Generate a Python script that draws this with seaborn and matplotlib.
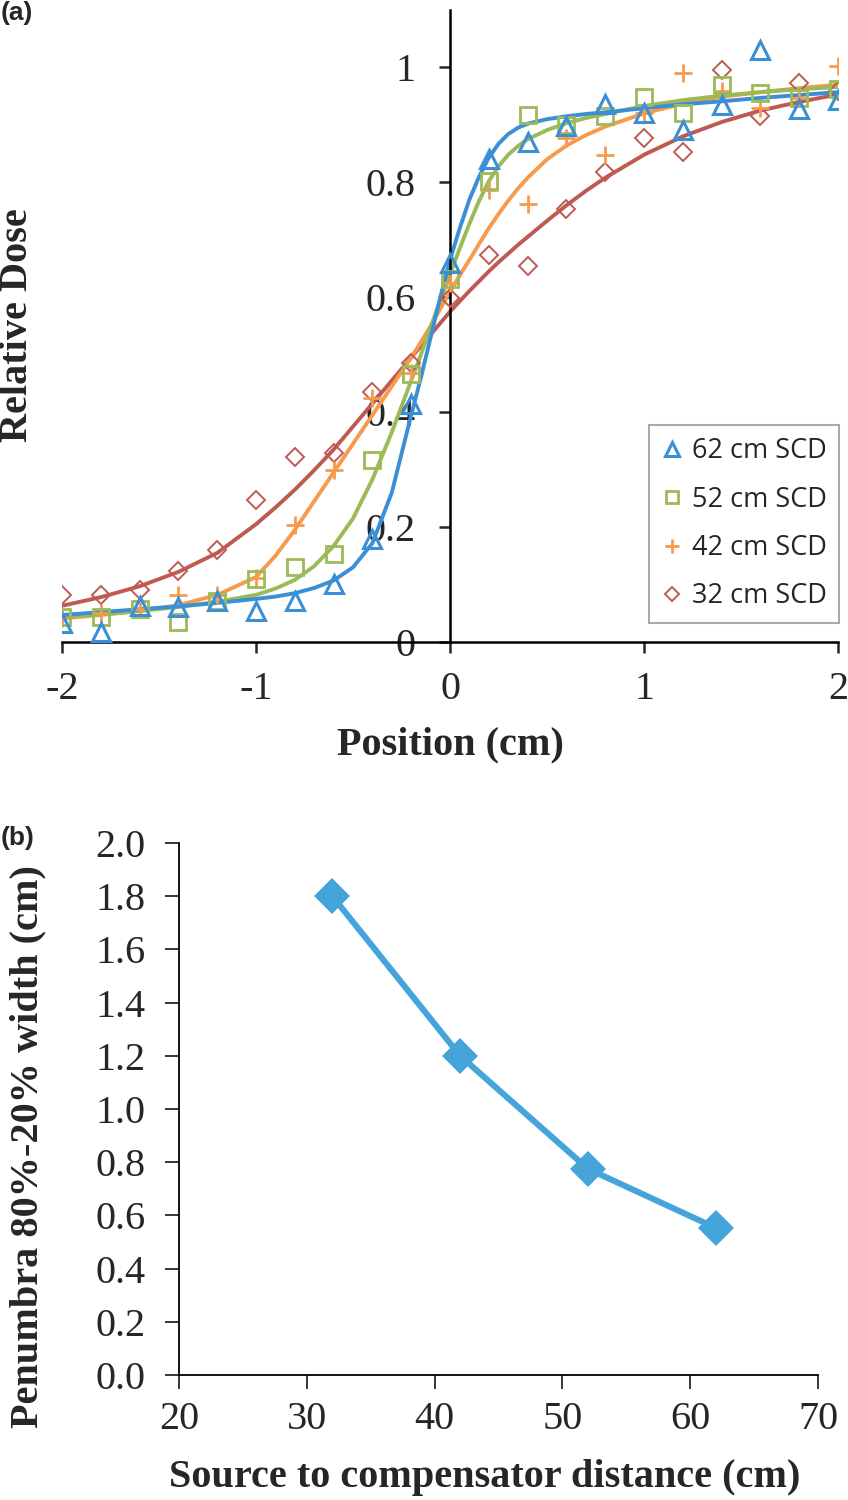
#!/usr/bin/env python3
"""
plot.py
Two-panel figure: (a) lateral dose profiles for four source-to-compensator
distances with fitted curves, (b) 80%-20% penumbra width vs distance.
Output: out.png (848 x 1500 px)
"""

import matplotlib
matplotlib.use("Agg")   # no display
import matplotlib.pyplot as plt
import seaborn as sns


# ═══════════════════════════ Data ═════════════════════════════════════

# panel (a) – measured points
POSITION = [-2.0, -1.8, -1.6, -1.4, -1.2, -1.0, -0.8, -0.6, -0.4, -0.2, 0.0,
            0.2, 0.4, 0.6, 0.8, 1.0, 1.2, 1.4, 1.6, 1.8, 2.0]

SCD62 = [0.033, 0.018, 0.062, 0.061, 0.072, 0.054, 0.072, 0.101, 0.180, 0.415, 0.660,
         0.840, 0.870, 0.898, 0.937, 0.920, 0.892, 0.935, 1.030, 0.927, 0.943]
SCD52 = [0.044, 0.044, 0.057, 0.035, 0.072, 0.110, 0.130, 0.154, 0.316, 0.466, 0.632,
         0.803, 0.917, 0.900, 0.915, 0.948, 0.921, 0.970, 0.955, 0.946, 0.962]
SCD42 = [0.041, 0.050, 0.058, 0.081, 0.081, 0.112, 0.203, 0.300, 0.425, 0.468, 0.625,
         0.786, 0.763, 0.878, 0.847, 0.921, 0.990, 0.959, 0.930, 0.947, 1.002]
SCD32 = [0.081, 0.081, 0.091, 0.123, 0.160, 0.247, 0.322, 0.329, 0.435, 0.485, 0.598,
         0.673, 0.654, 0.754, 0.818, 0.878, 0.852, 0.996, 0.915, 0.973, 0.959]

# panel (a) – fitted curves
CURVE_X = [-2.0, -1.8, -1.6, -1.4, -1.2, -1.0, -0.9, -0.8, -0.7, -0.6, -0.5, -0.4,
           -0.3, -0.2, -0.15, -0.1, -0.05, 0.0, 0.05, 0.1, 0.15, 0.2, 0.25, 0.3,
           0.35, 0.4, 0.5, 0.6, 0.7, 0.8, 1.0, 1.2, 1.4, 1.6, 1.8, 2.0]

FIT62 = [0.047, 0.052, 0.057, 0.062, 0.068, 0.075, 0.079, 0.085, 0.094, 0.107, 0.130, 0.172,
         0.260, 0.395, 0.460, 0.530, 0.600, 0.665, 0.720, 0.770, 0.810, 0.843, 0.867, 0.884,
         0.895, 0.902, 0.910, 0.915, 0.919, 0.922, 0.929, 0.936, 0.941, 0.947, 0.952, 0.957]
FIT52 = [0.044, 0.048, 0.054, 0.061, 0.070, 0.082, 0.093, 0.108, 0.132, 0.167, 0.215, 0.283,
         0.365, 0.455, 0.500, 0.548, 0.595, 0.640, 0.685, 0.728, 0.768, 0.802, 0.828, 0.848,
         0.863, 0.875, 0.891, 0.903, 0.912, 0.919, 0.933, 0.943, 0.951, 0.957, 0.962, 0.966]
FIT42 = [0.041, 0.047, 0.054, 0.064, 0.082, 0.113, 0.150, 0.195, 0.245, 0.295, 0.345, 0.395,
         0.445, 0.495, 0.522, 0.550, 0.580, 0.610, 0.638, 0.665, 0.693, 0.720, 0.745, 0.768,
         0.789, 0.808, 0.840, 0.864, 0.882, 0.897, 0.920, 0.937, 0.949, 0.957, 0.964, 0.970]
FIT32 = [0.063, 0.078, 0.097, 0.122, 0.155, 0.205, 0.234, 0.265, 0.299, 0.335, 0.375, 0.415,
         0.455, 0.495, 0.515, 0.535, 0.555, 0.575, 0.593, 0.611, 0.628, 0.645, 0.661, 0.676,
         0.691, 0.705, 0.733, 0.760, 0.785, 0.808, 0.848, 0.880, 0.905, 0.925, 0.940, 0.953]

LABELS = ["62 cm SCD", "52 cm SCD", "42 cm SCD", "32 cm SCD"]

# panel (b)
SCD_CM   = [32, 42, 52, 62]
PENUMBRA = [1.80, 1.20, 0.775, 0.553]


# ═══════════════════════════ Style ════════════════════════════════════

BLUE   = "#3A8FD5"
GREEN  = "#9BBB59"
ORANGE = "#F79A4D"
RED    = "#BE5A52"
BLUE_B = "#45A5DA"

SERIF = ["Liberation Serif", "DejaVu Serif"]
TICK_FS  = 29
LABEL_FS = 29

sns.set_style("white")
plt.rcParams["font.family"] = SERIF

fig = plt.figure(figsize=(8.48, 15), dpi=100)
W, H = 848, 1500

# axes boxes in pixel terms of the reference
ax_a = fig.add_axes([62 / W, 1 - 642 / H, 776 / W, 632 / H])
ax_b = fig.add_axes([179 / W, 1 - 1375 / H, 639 / W, 532 / H])


# ═══════════════════════════ Panel (a) ════════════════════════════════

# (label, points, fit, marker, markersize, edge width, colour)
series = [
    (LABELS[3], SCD32, FIT32, "D", 8.8, 1.4, RED),
    (LABELS[2], SCD42, FIT42, "+", 13.0, 2.0, ORANGE),
    (LABELS[1], SCD52, FIT52, "s", 11.0, 2.0, GREEN),
    (LABELS[0], SCD62, FIT62, "^", 12.5, 2.2, BLUE),
]

# curves first, markers on top
for label, pts, fit, marker, ms, mew, color in series:
    sns.lineplot(x=CURVE_X, y=fit, color=color, linewidth=2.8, ax=ax_a,
                 legend=False, zorder=2)

for label, pts, fit, marker, ms, mew, color in series:
    sns.lineplot(x=POSITION, y=pts, ax=ax_a, color=color, linestyle="",
                 marker=marker, markersize=ms, markerfacecolor="none",
                 markeredgecolor=color, markeredgewidth=mew, label=label,
                 zorder=3)

ax_a.set_xlim(-2, 2)
ax_a.set_ylim(0, 1.1)
ax_a.set_xticks([-2, -1, 0, 1, 2])
ax_a.set_xticklabels(["-2", "-1", "0", "1", "2"])
ax_a.set_yticks([0, 0.2, 0.4, 0.6, 0.8, 1.0])
ax_a.set_yticklabels(["0", "0.2", "0.4", "0.6", "0.8", "1"])
ax_a.set_xlabel("")
ax_a.set_ylabel("")

ax_a.spines["left"].set_position(("data", 0))
for side in ("top", "right"):
    ax_a.spines[side].set_visible(False)
for side in ("left", "bottom"):
    ax_a.spines[side].set_linewidth(1.8)
    ax_a.spines[side].set_color("black")

ax_a.tick_params(axis="x", direction="out", length=8, width=1.8,
                 labelsize=TICK_FS, pad=13, bottom=True)
ax_a.tick_params(axis="y", direction="out", length=8, width=1.8,
                 labelsize=TICK_FS, pad=17, left=True)

handles, labels = ax_a.get_legend_handles_labels()
order = [labels.index(l) for l in LABELS]
leg = ax_a.legend([handles[i] for i in order], [labels[i] for i in order],
                  loc="upper left", bbox_to_anchor=(0.756, 0.343),
                  borderaxespad=0, frameon=True, fancybox=False,
                  prop={"family": ["Open Sans", "DejaVu Sans"], "size": 19.5},
                  handlelength=0.8, handletextpad=0.35, labelspacing=0.75,
                  borderpad=0.45, markerscale=0.8)
leg.get_frame().set_edgecolor("#8C96A0")
leg.get_frame().set_linewidth(1.5)

fig.text(18 / W, 1 - 325 / H, "Relative Dose", rotation=90, ha="center",
         va="center", fontsize=LABEL_FS, fontweight="bold")
fig.text(450 / W, 1 - 745 / H, "Position (cm)", ha="center", va="center",
         fontsize=LABEL_FS, fontweight="bold")


# ═══════════════════════════ Panel (b) ════════════════════════════════

sns.lineplot(x=SCD_CM, y=PENUMBRA, ax=ax_b, color=BLUE_B, linewidth=4.4,
             marker="D", markersize=18, markeredgewidth=0,
             markerfacecolor=BLUE_B)

ax_b.set_xlim(20, 70)
ax_b.set_ylim(0, 2.0)
ax_b.set_xticks([20, 30, 40, 50, 60, 70])
ax_b.set_yticks([0.0, 0.2, 0.4, 0.6, 0.8, 1.0, 1.2, 1.4, 1.6, 1.8, 2.0])
ax_b.set_yticklabels([f"{v:.1f}" for v in ax_b.get_yticks()])
ax_b.set_xlabel("")
ax_b.set_ylabel("")

for side in ("top", "right"):
    ax_b.spines[side].set_visible(False)
for side in ("left", "bottom"):
    ax_b.spines[side].set_linewidth(1.3)
    ax_b.spines[side].set_color("black")

ax_b.tick_params(axis="x", direction="out", length=10, width=1.3,
                 labelsize=TICK_FS, pad=9, bottom=True)
ax_b.tick_params(axis="y", direction="out", length=10, width=1.3,
                 labelsize=TICK_FS, pad=14, left=True)

fig.text(28 / W, 1 - 1147 / H, "Penumbra 80%-20% width (cm)", rotation=90,
         ha="center", va="center", fontsize=LABEL_FS, fontweight="bold")
fig.text(485 / W, 1 - 1478 / H, "Source to compensator distance (cm)",
         ha="center", va="center", fontsize=LABEL_FS, fontweight="bold")


# ═══════════════════════════ Panel tags ═══════════════════════════════

tag_font = {"family": ["Liberation Sans", "DejaVu Sans"], "size": 19,
            "weight": "bold"}
fig.text(1 / W, 1 - 1 / H, "(a)", ha="left", va="top", fontdict=tag_font)
fig.text(1 / W, 1 - 826 / H, "(b)", ha="left", va="top", fontdict=tag_font)

fig.savefig("out.png", dpi=100)
plt.close(fig)
print("Saved -> out.png")
